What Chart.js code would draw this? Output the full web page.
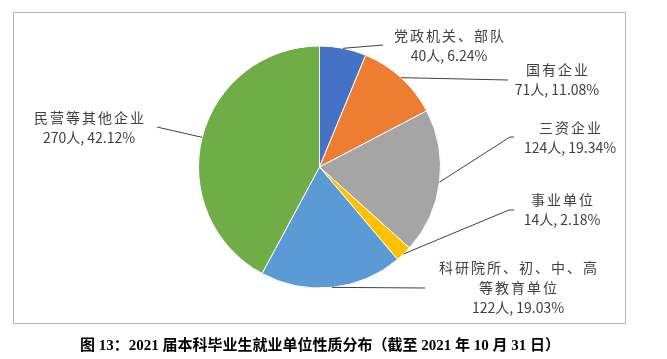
<!DOCTYPE html>
<html>
<head>
<meta charset="utf-8">
<script src="https://cdn.jsdelivr.net/npm/chart.js@4/dist/chart.umd.min.js"></script>
<style>
  html, body { margin: 0; padding: 0; background: #fff; }
  #wrap { position: relative; width: 667px; height: 359px; overflow: hidden; }
  #frame { position: absolute; left: 13px; top: 12px; width: 611px; height: 310px; border: 1px solid #b4b4b4; box-sizing: content-box; }
  canvas { position: absolute; left: 0; top: 0; }
  #caption { position: absolute; left: 0; width: 640px; top: 335px; text-align: center;
    font-family: "Liberation Serif", "Noto Sans CJK SC", serif; font-weight: 700; font-size: 15px; color: #000; line-height: 20px; }
</style>
</head>
<body>
<div id="wrap">
  <div id="frame"></div>
  <canvas id="c" width="667" height="359"></canvas>
  <div id="caption">图 13：2021 届本科毕业生就业单位性质分布（截至 2021 年 10 月 31 日）</div>
</div>
<script>
const categories = ["党政机关、部队", "国有企业", "三资企业", "事业单位", "科研院所、初、中、高等教育单位", "民营等其他企业"];
const counts = [40, 71, 124, 14, 122, 270];
const percents = ["6.24%", "11.08%", "19.34%", "2.18%", "19.03%", "42.12%"];
const labelLines = [
  ["党政机关、部队", "40人, 6.24%"],
  ["国有企业", "71人, 11.08%"],
  ["三资企业", "124人, 19.34%"],
  ["事业单位", "14人, 2.18%"],
  ["科研院所、初、中、高", "等教育单位", "122人, 19.03%"],
  ["民营等其他企业", "270人, 42.12%"]
];
const colors = ["#4472C4", "#ED7D31", "#A5A5A5", "#FFC000", "#5B9BD5", "#70AD47"];

// layout of the data labels (text centre, first line y) and leader line end points
const labelLayout = [
  { x: 449, y: 36, path: [[383, 45]] },
  { x: 557, y: 70, path: [[508, 80]] },
  { x: 570, y: 128, path: [[510, 137], [514, 137]] },
  { x: 562, y: 200, path: [[509, 210], [514, 210]] },
  { x: 518, y: 268, path: [[425, 288]] },
  { x: 89, y: 118, path: [[157, 127]] }
];

const labelPlugin = {
  id: 'pieLabels',
  afterDatasetsDraw(chart) {
    const ctx = chart.ctx;
    const meta = chart.getDatasetMeta(0);
    ctx.save();
    meta.data.forEach((arc, i) => {
      const p = arc.getProps(['x', 'y', 'startAngle', 'endAngle', 'outerRadius'], true);
      const mid = (p.startAngle + p.endAngle) / 2;
      const sx = p.x + Math.cos(mid) * p.outerRadius;
      const sy = p.y + Math.sin(mid) * p.outerRadius;
      const lay = labelLayout[i];
      ctx.beginPath();
      ctx.strokeStyle = '#404040';
      ctx.lineWidth = 1;
      ctx.moveTo(sx, sy);
      lay.path.forEach(pt => ctx.lineTo(pt[0], pt[1]));
      ctx.stroke();
      ctx.fillStyle = '#404040';
      ctx.textAlign = 'center';
      ctx.textBaseline = 'middle';
      labelLines[i].forEach((t, k) => {
        const isNum = /\d/.test(t);
        ctx.font = '14px "Noto Sans CJK SC", sans-serif';
        ctx.letterSpacing = isNum ? '0px' : '2px';
        ctx.fillText(t, lay.x + (isNum ? 0 : 1), lay.y + k * 20);
      });
    });
    ctx.restore();
  }
};

new Chart(document.getElementById('c'), {
  type: 'pie',
  data: {
    labels: categories,
    datasets: [{
      data: counts,
      backgroundColor: colors,
      borderColor: '#ffffff',
      borderWidth: 1
    }]
  },
  options: {
    responsive: false,
    animation: false,
    layout: { padding: { left: 198, right: 226, top: 45, bottom: 70 } },
    plugins: { legend: { display: false }, tooltip: { enabled: false }, title: { display: false } }
  },
  plugins: [labelPlugin]
});
</script>
</body>
</html>
